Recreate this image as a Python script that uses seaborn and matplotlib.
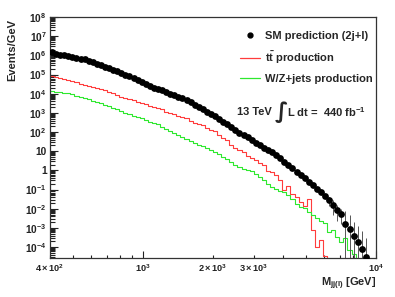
import numpy as np
import seaborn as sns
import matplotlib
matplotlib.use("Agg")
import matplotlib.pyplot as plt
import matplotlib.ticker as mticker
from matplotlib.lines import Line2D

# 80 log-spaced bins from 400 GeV to 10 TeV
edges = np.geomspace(400, 10000, 81)
centers = np.sqrt(edges[:-1] * edges[1:])

# SM prediction (2j+l), events/GeV
sm_pred = [1.45e6, 1.23e6, 1.1e6, 1.0e6, 8.9e5, 8.1e5, 7.3e5, 6.6e5, 6.1e5, 5.1e5,
           4.3e5, 3.7e5, 3.1e5, 2.6e5, 2.2e5, 1.8e5, 1.55e5, 1.25e5, 1.0e5, 8.0e4,
           6.4e4, 5.2e4, 4.1e4, 3.3e4, 2.6e4, 2.1e4, 1.8e4, 1.5e4, 1.2e4, 1.0e4,
           8.4e3, 6.9e3, 5.8e3, 4.6e3, 3.5e3, 2.6e3, 2.0e3, 1.5e3, 1.13e3, 8.6e2,
           6.6e2, 4.9e2, 3.5e2, 2.5e2, 1.8e2, 1.25e2, 87, 68, 53, 40,
           28, 20, 15.5, 12, 9.1, 6.2, 4.2, 2.8, 1.9, 1.3,
           0.87, 0.59, 0.39, 0.25, 0.17, 0.11, 0.074, 0.049, 0.028, 0.016,
           8.7e-3, 5.5e-3, 1.7e-3, 8.3e-4, 3.9e-4, 1.8e-4, 7.7e-5, 2.9e-5, np.nan, np.nan]
sm_err = [0.0] * 67 + [0.008, 0.014, 0.011, 6.5e-3, 3.8e-3, 5.7e-3, 3.8e-3, 1.6e-3,
                       1.05e-3, 6e-4, 2.6e-4, 0.0, 0.0]

# ttbar production
ttbar = [8.1e4, 7.2e4, 6.3e4, 5.6e4, 5.0e4, 4.4e4, 3.9e4, 3.4e4, 3.0e4, 2.6e4,
         2.3e4, 2.0e4, 1.75e4, 1.55e4, 1.23e4, 1.03e4, 8.6e3, 7.1e3, 6.0e3, 5.0e3,
         4.5e3, 3.7e3, 3.2e3, 2.9e3, 2.4e3, 2.1e3, 1.8e3, 1.6e3, 1.15e3, 1.0e3,
         8.5e2, 7.0e2, 5.8e2, 5.1e2, 3.8e2, 2.8e2, 2.5e2, 2.2e2, 1.6e2, 1.27e2,
         1.1e2, 72, 49, 38, 21, 15.6, 11.2, 9.0, 5.8, 4.4,
         3.6, 2.4, 1.9, 0.95, 0.79, 0.55, 0.30, 0.091, 0.15, 0.056,
         0.04, 0.022, 0.0135, 0.031, 7.6e-4, 1.0e-4, 2.3e-4, 3.4e-5, 0, 0,
         0, 0, 0, 0, 0, 0, 0, 0, 0, 0]

# W/Z+jets production
wzjets = [1.4e4, 1.3e4, 1.2e4, 1.12e4, 1.04e4, 9.2e3, 7.9e3, 6.8e3, 5.9e3, 5.1e3,
          4.4e3, 3.8e3, 3.3e3, 2.7e3, 2.2e3, 1.9e3, 1.5e3, 1.25e3, 1.03e3, 8.5e2,
          7.1e2, 5.9e2, 5.2e2, 4.1e2, 3.4e2, 2.8e2, 2.5e2, 1.9e2, 1.48e2, 1.2e2,
          89, 69, 54, 41, 36, 27, 22, 18.5, 14.3, 11.5,
          9.3, 7.1, 5.1, 3.8, 2.9, 2.0, 1.45, 1.25, 1.1, 0.9,
          0.63, 0.45, 0.30, 0.20, 0.14, 0.11, 0.089, 0.072, 0.050, 0.031,
          0.017, 0.012, 0.0107, 6.6e-3, 4.6e-3, 3.2e-3, 2.2e-3, 1.8e-3, 6.2e-4, 7.6e-4,
          3.3e-4, 1.8e-4, 2.9e-4, 6.9e-5, 4.3e-5, 0, 0, 0, 0, 0]

x_ticklabels = {400: r"$4\times10^{2}$", 2000: r"$2\times10^{3}$", 3000: r"$3\times10^{3}$"}

sns.set_style("ticks")
plt.rcParams["font.family"] = ["Liberation Sans", "DejaVu Sans"]
plt.rcParams["font.weight"] = "bold"
plt.rcParams["mathtext.fontset"] = "custom"
plt.rcParams["mathtext.rm"] = "Liberation Sans:bold"
plt.rcParams["mathtext.it"] = "Liberation Sans:bold"
plt.rcParams["mathtext.bf"] = "Liberation Sans:bold"

fig = plt.figure(figsize=(3.95, 2.97), dpi=100)
ax = fig.add_axes([50 / 395, 1 - 258 / 297, 326 / 395, 241 / 297])
ax.set_xscale("log")
ax.set_yscale("log")

def floor(v):
    v = np.asarray(v, dtype=float)
    return np.where(v > 0, v, 1e-7)

red = "#ff3c3c"
green = "#2ee82e"
sns.lineplot(x=edges, y=np.append(floor(ttbar), 1e-7), drawstyle="steps-post",
             estimator=None, color=red, lw=0.8, ax=ax)
sns.lineplot(x=edges, y=np.append(floor(wzjets), 1e-7), drawstyle="steps-post",
             estimator=None, color=green, lw=0.8, ax=ax)

ax.errorbar(centers, sm_pred, yerr=sm_err, fmt="none", ecolor="#555555", elinewidth=0.7)
sns.scatterplot(x=centers, y=sm_pred, color="black", s=24, linewidth=0, ax=ax, zorder=5)

ax.set_xlim(400, 10000)
ax.set_ylim(2.7e-5, 1e8)

# y axis: ROOT-style log labels
ax.yaxis.set_major_locator(mticker.LogLocator(base=10, numticks=20))
ax.yaxis.set_minor_locator(mticker.LogLocator(base=10, subs=np.arange(2, 10), numticks=200))
def ylab(v, pos):
    e = int(round(np.log10(v)))
    if e == 0:
        return "1"
    if e == 1:
        return "10"
    return r"$10^{%d}$" % e
ax.yaxis.set_major_formatter(mticker.FuncFormatter(ylab))
ax.yaxis.set_minor_formatter(mticker.NullFormatter())

# x axis
ax.xaxis.set_major_locator(mticker.FixedLocator([1000, 10000]))
ax.xaxis.set_major_formatter(mticker.FixedFormatter([r"$10^{3}$", r"$10^{4}$"]))
minor_x = [400, 500, 600, 700, 800, 900, 2000, 3000, 4000, 5000, 6000, 7000, 8000, 9000]
ax.xaxis.set_minor_locator(mticker.FixedLocator(minor_x))
ax.xaxis.set_minor_formatter(mticker.FixedFormatter([x_ticklabels.get(m, "") for m in minor_x]))

ax.tick_params(axis="both", which="both", direction="in", top=False, right=False,
               colors="#222222", width=0.8)
ax.tick_params(axis="y", which="major", length=6, pad=2.5, labelsize=7.3)
ax.tick_params(axis="y", which="minor", length=3.5, labelleft=False)
ax.tick_params(axis="x", which="major", length=5, pad=3, labelsize=6.6)
ax.tick_params(axis="x", which="minor", length=2.5, pad=3, labelsize=6.6)
for sp in ax.spines.values():
    sp.set_linewidth(0.9)
    sp.set_color("#333333")

ax.set_ylabel("Events/GeV", fontsize=8, fontweight="bold", loc="top")
ax.yaxis.set_label_coords(-0.1, 0.99)
ax.set_xlabel(r"M$_{jj(l)}$ [GeV]", fontsize=8, fontweight="bold", loc="right", labelpad=1)

handles = [Line2D([], [], marker="o", ls="none", color="black", markersize=3.5),
           Line2D([], [], color=red, lw=0.9),
           Line2D([], [], color=green, lw=0.9)]
labels = ["SM prediction (2j+l)", r"t$\bar{\rm t}$ production", "W/Z+jets production"]
fig.legend(handles, labels, loc="upper right", bbox_to_anchor=(373 / 395, 1 - 31 / 297),
           frameon=False, fontsize=8, handlelength=1.8, handletextpad=0.45,
           labelspacing=0.75, borderpad=0, borderaxespad=0)

fig.text(237 / 395, 1 - 112 / 297, "13 TeV", fontsize=8, fontweight="bold", va="center")
fig.text(275 / 395, 1 - 112 / 297, "\u222b", fontsize=16, family="DejaVu Sans", va="center")
fig.text(287 / 395, 1 - 112 / 297, r"L dt =  440 fb$^{-1}$", fontsize=8, fontweight="bold", va="center")

fig.savefig("out.png", dpi=100)
